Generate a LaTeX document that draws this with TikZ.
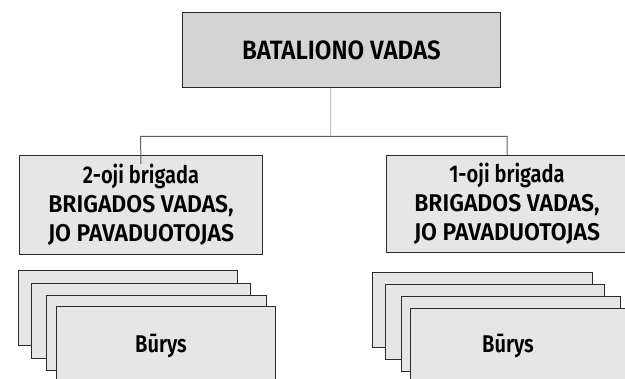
\documentclass[tikz,border=0pt]{standalone}
\usepackage{fontspec}
\newfontfamily\lbltop{Fira Sans SemiBold}[FakeStretch=0.91]
\newfontfamily\lblcap{Fira Sans SemiBold}[FakeStretch=0.95]
\newfontfamily\lbllow{Fira Sans SemiBold}[FakeStretch=0.83]
\newfontfamily\lblcard{Fira Sans SemiBold}[FakeStretch=0.83]
\definecolor{topfill}{HTML}{D4D4D5}
\definecolor{boxfill}{HTML}{E6E6E7}
\definecolor{edge}{HTML}{2A2A2A}
\definecolor{linkgray}{HTML}{5E5E5E}
\definecolor{stemgray}{HTML}{BDBDBD}
\tikzset{
  topbox/.style={draw=edge, fill=topfill, line width=1pt, minimum width=318pt, minimum height=75.5pt, inner sep=0pt, font=\lbltop\fontsize{26.5}{30}\selectfont, text=black},
  midbox/.style={draw=edge, fill=boxfill, line width=1pt, inner sep=0pt},
  card/.style={draw=edge, fill=boxfill, line width=1pt, minimum width=219.4pt, minimum height=75pt, inner sep=0pt},
  txt/.style={align=center, inner sep=0pt, font=\lblcap\fontsize{24.2}{29}\selectfont, text=black},
  conn/.style={draw=linkgray, line width=1pt},
  stem/.style={draw=stemgray, line width=1pt}
}
\begin{document}
\begin{tikzpicture}[x=1pt, y=-1pt]
\path[use as bounding box] (0,0) rectangle (625,379);
\node[topbox] (top) at (341.5,50.25) {BATALIONO VADAS};
\node[midbox, minimum width=243pt, minimum height=99pt] (b2) at (141,205) {};
\node[midbox, minimum width=241pt, minimum height=97pt] (b1) at (506.5,204) {};
\node[txt] (b2t) at (141,204.5) {{\lbllow 2-oji brigada}\\BRIGADOS VADAS,\\JO PAVADUOTOJAS};
\node[txt] (b1t) at (507,204) {{\lbllow 1-oji brigada}\\BRIGADOS VADAS,\\JO PAVADUOTOJAS};
\coordinate (jc) at (330.5,136.5);
\coordinate (jl) at (140.5,136.5);
\coordinate (jr) at (507,136.5);
\coordinate (tail) at (141,164);
\draw[stem] (top.south -| jc) -- (jc);
\draw[conn] (tail) -- (jl) -- (jr) -- (jr |- b1.north);
% left cards
\node[card] (l1) at (128,308.2) {};
\node[card] (l2) at (140.7,320.8) {};
\node[card] (l3) at (156.5,332.8) {};
\node[card] (l4) at (166,343.8) {};
\node[txt, font=\lblcard\fontsize{24.2}{29}\selectfont] (lt) at (161,346) {Būrys};
% right cards
\node[card] (r1) at (482.4,310.2) {};
\node[card] (r2) at (495.1,322.5) {};
\node[card] (r3) at (510.7,334.2) {};
\node[card] (r4) at (520.2,345.8) {};
\node[txt, font=\lblcard\fontsize{24.2}{29}\selectfont] (rt) at (508,346) {Būrys};
\end{tikzpicture}
\end{document}
